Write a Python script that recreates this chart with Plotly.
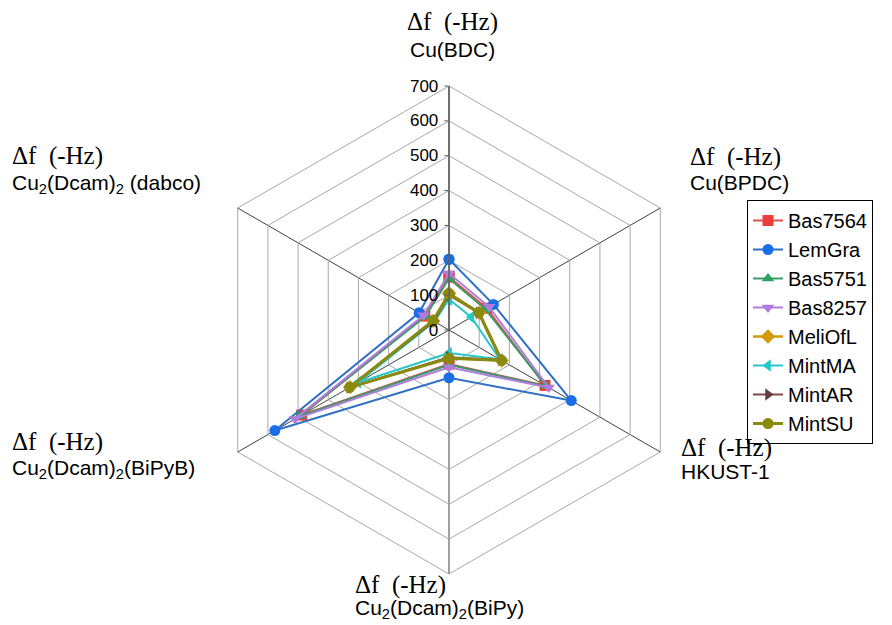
import plotly.graph_objects as go

categories = ["Cu(BDC)", "Cu(BPDC)", "HKUST-1", "Cu2(Dcam)2(BiPy)", "Cu2(Dcam)2(BiPyB)", "Cu2(Dcam)2 (dabco)"]
axis_labels = ["Cu(BDC)", "Cu(BPDC)", "HKUST-1",
               "Cu<sub>2</sub>(Dcam)<sub>2</sub>(BiPy)",
               "Cu<sub>2</sub>(Dcam)<sub>2</sub>(BiPyB)",
               "Cu<sub>2</sub>(Dcam)<sub>2</sub> (dabco)"]
unit_label = "Δf  (-Hz)"

series_names = ["Bas7564", "LemGra", "Bas5751", "Bas8257", "MeliOfL", "MintMA", "MintAR", "MintSU"]
Bas7564 = [152, 125, 318, 98, 488, 80]
LemGra = [203, 147, 405, 137, 577, 99]
Bas5751 = [148, 120, 322, 100, 495, 78]
Bas8257 = [162, 133, 330, 107, 510, 84]
MeliOfL = [105, 100, 175, 80, 328, 52]
MintMA = [88, 74, 168, 66, 301, 48]
MintAR = [100, 98, 172, 78, 330, 50]
MintSU = [104, 99, 174, 81, 329, 53]
series_values = [Bas7564, LemGra, Bas5751, Bas8257, MeliOfL, MintMA, MintAR, MintSU]

radial_ticks = [0, 100, 200, 300, 400, 500, 600, 700]

line_colors = ["#d9534f", "#2f6fc4", "#3c9a6a", "#b07ddf", "#d19a0a", "#22c8c8", "#7a4a4a", "#8a8a10"]
marker_colors = ["#ee3b3b", "#1a6fe6", "#2ea060", "#b07ddf", "#d19a0a", "#22c8c8", "#6a3a3a", "#8a8a10"]
symbols = ["square", "circle", "triangle-up", "triangle-down", "diamond", "triangle-left", "triangle-right", "circle"]
widths = [2, 2, 2, 2, 2.5, 2, 2, 3]

W, H = 892, 625
def px(x): return x / W
def py(y): return 1 - y / H

fig = go.Figure()
for name, vals, lc, mc, sym, lw in zip(series_names, series_values, line_colors, marker_colors, symbols, widths):
    fig.add_trace(go.Scatterpolar(
        r=vals + vals[:1], theta=categories + categories[:1], name=name,
        mode="lines+markers",
        line=dict(color=lc, width=lw),
        marker=dict(symbol=sym, size=11, color=mc),
    ))

cx, cy, R = 449, 330, 244
fig.update_layout(
    width=W, height=H, margin=dict(l=0, r=0, t=0, b=0),
    paper_bgcolor="white", plot_bgcolor="white",
    font=dict(family="Liberation Sans, Arial, sans-serif", color="black"),
    polar=dict(
        domain=dict(x=[px(cx - R), px(cx + R)], y=[py(cy + R), py(cy - R)]),
        gridshape="linear", bgcolor="white",
        radialaxis=dict(range=[0, 700], tickvals=radial_ticks, angle=90, tickangle=90,
                        showline=True, linecolor="#606060", linewidth=1.5,
                        gridcolor="#a8a8a8", gridwidth=1, ticks="outside", ticklen=4,
                        tickcolor="#606060", side="counterclockwise",
                        tickfont=dict(size=17, color="black")),
        angularaxis=dict(rotation=90, direction="clockwise", showticklabels=False,
                         ticks="", gridcolor="#404040", gridwidth=1,
                         linecolor="#a8a8a8", linewidth=1),
    ),
    legend=dict(x=px(747), y=py(200), xanchor="left", yanchor="top",
                bordercolor="black", borderwidth=1, bgcolor="white",
                font=dict(size=20, family="Liberation Sans, Arial, sans-serif"),
                tracegroupgap=0, itemwidth=30),
    showlegend=True,
)

# label positions: (x, y_unit, y_name, anchor)
label_pos = [
    (452, 22, 50, "center"),
    (688, 157, 183, "left"),
    (679, 448, 471, "left"),
    (353, 585, 609, "left"),
    (10, 442, 469, "left"),
    (10, 156, 184, "left"),
]
for lbl, (x, yu, yn, anc) in zip(axis_labels, label_pos):
    fig.add_annotation(x=px(x), y=py(yu), xref="paper", yref="paper", text=unit_label,
                       showarrow=False, xanchor=anc, yanchor="middle",
                       font=dict(family="Liberation Serif, Times New Roman, serif", size=25))
    fig.add_annotation(x=px(x), y=py(yn), xref="paper", yref="paper", text=lbl,
                       showarrow=False, xanchor=anc, yanchor="middle",
                       font=dict(family="Liberation Sans Narrow, Liberation Sans, Arial, sans-serif", size=21))

fig.write_html("out.html")
